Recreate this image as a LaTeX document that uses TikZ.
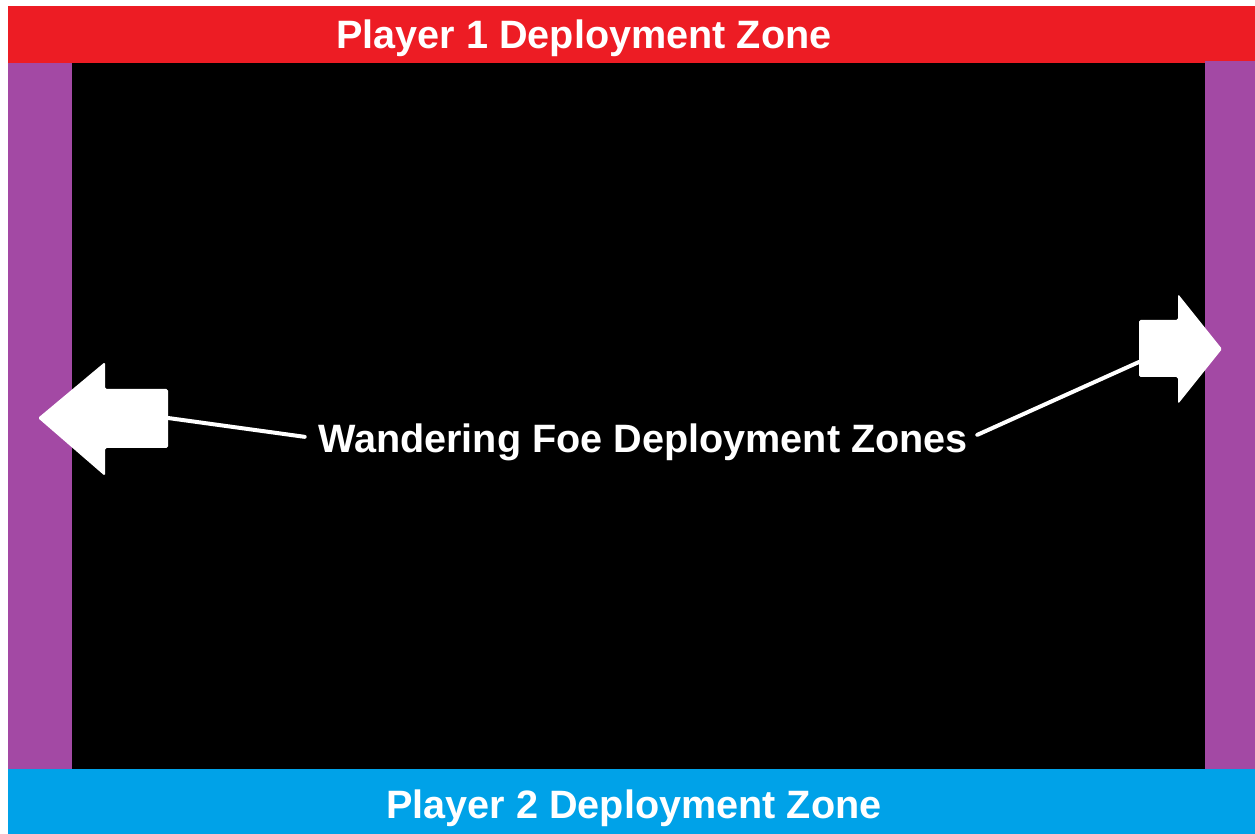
\documentclass[tikz,border=0pt]{standalone}
\usepackage{fontspec}
\setmainfont{Liberation Sans}
\usepackage{xcolor}
\usepackage{tikz}
\usetikzlibrary{positioning}
\definecolor{zonered}{HTML}{ED1C24}
\definecolor{zonepurple}{HTML}{A349A4}
\definecolor{zoneblue}{HTML}{00A2E8}

\begin{document}
\begin{tikzpicture}[x=0.5pt,y=-0.5pt,
  zonelabel/.style={text=white,font=\fontsize{19.8}{22}\selectfont\bfseries,inner sep=0pt,anchor=base},
  pointer/.style={draw=white,line width=2pt,line cap=round},
  bigarrow/.style={fill=white,rounded corners=0.8pt}]
  \useasboundingbox (0,0) rectangle (1255,834);
  \fill[white] (0,0) rectangle (1255,834);
  % board and zones
  \fill[black] (8,63) rectangle (1255,769);
  \fill[zonered] (8,6) rectangle (1255,63);
  \fill[zoneblue] (8,769) rectangle (1255,834);
  \fill[zonepurple] (8,63) rectangle (72,769);
  \fill[zonepurple] (1205,61) rectangle (1255,769);

  % arrows
  \fill[bigarrow] (38,418) -- (105,362) -- (105,389) -- (168,389) -- (168,448)
    -- (105,448) -- (105,476) -- cycle;
  \fill[bigarrow] (1222,349) -- (1178,294) -- (1178,320) -- (1139,320) -- (1139,377)
    -- (1178,377) -- (1178,404) -- cycle;
  \coordinate (lefttail) at (168,418);
  \coordinate (righttail) at (1139,362);

  % labels
  \node[zonelabel] (player1) at (584,49) {Player 1 Deployment Zone};
  \node[zonelabel] (player2) at (634,818) {Player 2 Deployment Zone};
  \node[zonelabel] (wander) at (643,453) {Wandering Foe Deployment Zones};

  \draw[pointer] ([xshift=-6.5pt,yshift=3pt]wander.west) -- (lefttail);
  \draw[pointer] ([xshift=4.5pt,yshift=4pt]wander.east) -- (righttail);
\end{tikzpicture}
\end{document}
